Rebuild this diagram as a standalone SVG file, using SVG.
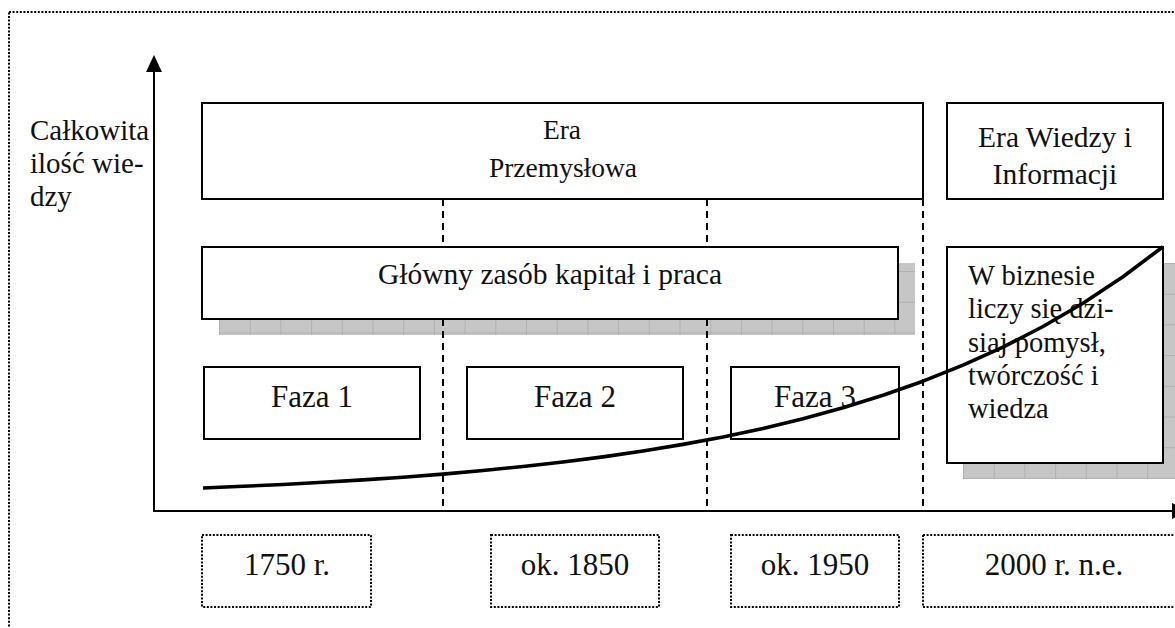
<svg xmlns="http://www.w3.org/2000/svg" width="1175" height="628" viewBox="0 0 1175 628">
  <style>
    .txt { font-family: "Liberation Serif", "Times New Roman", serif; fill: #111; }
    .box { fill: #fff; stroke: #000; stroke-width: 2; }
    .dotbox { fill: #fff; stroke: #000; stroke-width: 2; stroke-dasharray: 2 1.6; }
    .axis { stroke: #000; stroke-width: 2; fill: none; }
    .divider { stroke: #000; stroke-width: 2; stroke-dasharray: 7 5; fill: none; }
    .growth { stroke: #000; stroke-width: 3.6; fill: none; stroke-linejoin: round; stroke-linecap: butt; }
  </style>
  <defs>
    <pattern id="gridA" patternUnits="userSpaceOnUse" x="219" y="271" width="30.7" height="30.7">
      <rect width="30.7" height="30.7" fill="#c6c6c6"/>
      <path d="M0 0 H30.7 M0 0 V30.7" stroke="#9c9c9c" stroke-width="1" fill="none"/>
    </pattern>
    <pattern id="gridB" patternUnits="userSpaceOnUse" x="963" y="263" width="30.7" height="30.7">
      <rect width="30.7" height="30.7" fill="#c6c6c6"/>
      <path d="M0 0 H30.7 M0 0 V30.7" stroke="#9c9c9c" stroke-width="1" fill="none"/>
    </pattern>
  </defs>

  <rect width="1175" height="628" fill="#fff"/>

  <!-- outer dotted frame -->
  <rect x="9" y="12" width="1220" height="700" fill="none" stroke="#000" stroke-width="2" stroke-dasharray="2 1.6"/>

  <!-- shadows -->
  <rect x="219" y="263" width="696" height="72" fill="url(#gridA)"/>
  <rect x="963" y="263" width="230" height="216" fill="url(#gridB)"/>

  <g id="connectors">
    <line class="divider" x1="443" y1="199" x2="443" y2="511"/>
    <line class="divider" x1="707" y1="199" x2="707" y2="511"/>
    <line class="divider" x1="923" y1="199" x2="923" y2="511"/>
    <line class="axis" x1="154" y1="72" x2="154" y2="511"/>
    <polygon points="154,55 146,72 162,72" fill="#000"/>
    <line class="axis" x1="153" y1="511" x2="1172" y2="511"/>
    <polygon points="1172,503 1188,511 1172,519" fill="#000"/>
  </g>

  <g id="y-label">
    <text class="txt" font-size="29" x="30" y="140">Całkowita</text>
    <text class="txt" font-size="29" x="30" y="173">ilość wie-</text>
    <text class="txt" font-size="29" x="30" y="206">dzy</text>
  </g>

  <g id="era-przemyslowa">
    <rect class="box" x="202" y="103" width="721" height="96"/>
    <text class="txt" font-size="27.5" x="562" y="139" text-anchor="middle">Era</text>
    <text class="txt" font-size="27.5" x="563" y="177" text-anchor="middle">Przemysłowa</text>
  </g>

  <g id="era-wiedzy">
    <rect class="box" x="947" y="103" width="216" height="96"/>
    <text class="txt" font-size="29.5" x="1055" y="147" text-anchor="middle">Era Wiedzy i</text>
    <text class="txt" font-size="29.5" x="1055" y="184" text-anchor="middle">Informacji</text>
  </g>

  <g id="glowny-zasob">
    <rect class="box" x="202" y="247" width="696" height="72"/>
    <text class="txt" font-size="29.5" x="550" y="284" text-anchor="middle">Główny zasób kapitał i praca</text>
  </g>

  <g id="w-biznesie">
    <rect class="box" x="947" y="247" width="216" height="216"/>
    <text class="txt" font-size="28.5" x="968" y="285">W biznesie</text>
    <text class="txt" font-size="28.5" x="968" y="318">liczy się dzi-</text>
    <text class="txt" font-size="28.5" x="968" y="352">siaj pomysł,</text>
    <text class="txt" font-size="28.5" x="968" y="385">twórczość i</text>
    <text class="txt" font-size="28.5" x="968" y="418">wiedza</text>
  </g>

  <g id="faza-1">
    <rect class="box" x="204" y="367" width="216" height="72"/>
    <text class="txt" font-size="31" x="312" y="407" text-anchor="middle">Faza 1</text>
  </g>
  <g id="faza-2">
    <rect class="box" x="467" y="367" width="216" height="72"/>
    <text class="txt" font-size="31" x="575" y="407" text-anchor="middle">Faza 2</text>
  </g>
  <g id="faza-3">
    <rect class="box" x="731" y="367" width="168" height="72"/>
    <text class="txt" font-size="31" x="815" y="407" text-anchor="middle">Faza 3</text>
  </g>

  <g id="year-1750">
    <rect class="dotbox" x="202" y="535" width="169" height="72"/>
    <text class="txt" font-size="31" x="287" y="575" text-anchor="middle">1750 r.</text>
  </g>
  <g id="year-1850">
    <rect class="dotbox" x="491" y="535" width="168" height="72"/>
    <text class="txt" font-size="31" x="575" y="575" text-anchor="middle">ok. 1850</text>
  </g>
  <g id="year-1950">
    <rect class="dotbox" x="731" y="535" width="168" height="72"/>
    <text class="txt" font-size="31" x="815" y="575" text-anchor="middle">ok. 1950</text>
  </g>
  <g id="year-2000">
    <rect class="dotbox" x="923" y="535" width="262" height="72"/>
    <text class="txt" font-size="31" x="1054" y="575" text-anchor="middle">2000 r. n.e.</text>
  </g>

  <!-- knowledge growth curve -->
  <g id="growth-curve">
    <polyline class="growth" points="203,488 243,486.3 283,484.5 323,482.3 363,479.9 403,477.2 443,474.1 483,470.5 523,466.5 563,462 603,456.9 643,451 683,444.4 723,436.9 763,428.4 803,418.7 843,407.8 883,395.3 923,381.2 963,365.2 1003,347.1 1043,326.5 1083,303.2 1123,276.7 1163,246.7"/>
  </g>
</svg>
